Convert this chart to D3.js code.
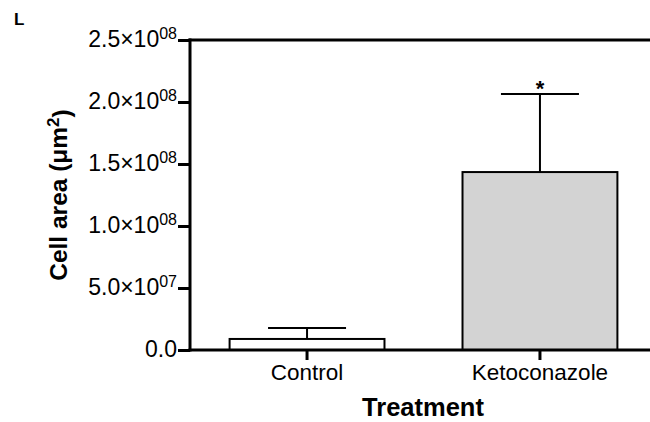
<!DOCTYPE html>
<html><head><meta charset="utf-8">
<script src="https://cdn.jsdelivr.net/npm/d3@7"></script>
<style>body{margin:0;background:#fff}svg{display:block}</style>
</head><body>
<svg id="chart" width="650" height="422"></svg>
<script>
const categories = ["Control", "Ketoconazole"];
const means = [8.9e6, 1.435e8];
const errors = [8.8e6, 6.3e7];
const significance = ["", "*"];
const yTicks = [0, 5e7, 1e8, 1.5e8, 2e8, 2.5e8];
const yTickMantissa = ["0.0", "5.0×10", "1.0×10", "1.5×10", "2.0×10", "2.5×10"];
const yTickExponent = ["", "07", "08", "08", "08", "08"];
const barFills = ["#ffffff", "#d3d3d3"];

const svg = d3.select("#chart");
const font = "'Liberation Sans', Arial, sans-serif";
const y = d3.scaleLinear().domain([0, 2.5e8]).range([350, 40]);
const x = d3.scaleBand().domain(categories).range([190, 657])
  .paddingInner(0.335).paddingOuter(0.17);

// bars
const g = svg.append("g");
g.selectAll("rect.bar").data(categories).join("rect")
  .attr("x", d => x(d)).attr("width", x.bandwidth())
  .attr("y", (d, i) => y(means[i]))
  .attr("height", (d, i) => y(0) - y(means[i]))
  .attr("fill", (d, i) => barFills[i])
  .attr("stroke", "#000").attr("stroke-width", 2);

// error bars
const capW = 78;
categories.forEach((c, i) => {
  const cx = x(c) + x.bandwidth() / 2;
  g.append("line").attr("x1", cx).attr("x2", cx)
    .attr("y1", y(means[i])).attr("y2", y(means[i] + errors[i]))
    .attr("stroke", "#000").attr("stroke-width", 2);
  g.append("line").attr("x1", cx - capW / 2).attr("x2", cx + capW / 2)
    .attr("y1", y(means[i] + errors[i])).attr("y2", y(means[i] + errors[i]))
    .attr("stroke", "#000").attr("stroke-width", 2);
  if (significance[i]) {
    g.append("text").attr("x", cx).attr("y", y(means[i] + errors[i]) + 2)
      .attr("text-anchor", "middle").attr("font-family", font)
      .attr("font-size", 22).attr("font-weight", "bold").text(significance[i]);
  }
});

// y axis
const yAxis = svg.append("g").attr("transform", "translate(190,0)")
  .call(d3.axisLeft(y).tickValues(yTicks).tickSize(12).tickPadding(1).tickFormat((d, i) => yTickMantissa[i]));
yAxis.select(".domain").remove();
yAxis.selectAll(".tick line").attr("stroke", "#000").attr("stroke-width", 3);
yAxis.selectAll(".tick text").each(function(d, i) {
  const t = d3.select(this);
  t.text(null).attr("font-family", font).attr("font-size", 23).attr("fill", "#000").attr("dy", "0.3em");
  t.append("tspan").text(yTickMantissa[i]);
  if (yTickExponent[i]) t.append("tspan").attr("dy", "-0.5em").attr("font-size", 16).text(yTickExponent[i]);
});

// x axis
const xAxis = svg.append("g").attr("transform", "translate(0,350)")
  .call(d3.axisBottom(x).tickSize(10).tickPadding(4));
xAxis.select(".domain").remove();
xAxis.selectAll(".tick line").attr("stroke", "#000").attr("stroke-width", 3);
xAxis.selectAll(".tick text").attr("font-family", font).attr("font-size", 22.5).attr("fill", "#000");

// frame lines
svg.append("line").attr("x1", 190).attr("x2", 190).attr("y1", 38.5).attr("y2", 351.5).attr("stroke", "#000").attr("stroke-width", 3);
svg.append("line").attr("x1", 188.5).attr("x2", 650).attr("y1", 350).attr("y2", 350).attr("stroke", "#000").attr("stroke-width", 3);
svg.append("line").attr("x1", 188.5).attr("x2", 650).attr("y1", 40).attr("y2", 40).attr("stroke", "#000").attr("stroke-width", 3);

// axis titles
svg.append("text").attr("x", 423).attr("y", 416).attr("text-anchor", "middle")
  .attr("font-family", font).attr("font-size", 25.5).attr("font-weight", "bold").text("Treatment");
const yl = svg.append("text").attr("transform", "translate(67,195) rotate(-90)").attr("text-anchor", "middle")
  .attr("font-family", font).attr("font-size", 24.5).attr("font-weight", "bold");
yl.append("tspan").text("Cell area (μm");
yl.append("tspan").attr("dy", "-0.45em").attr("font-size", 17).text("2");
yl.append("tspan").attr("dy", "0.45em").text(")");

// panel letter
svg.append("text").attr("x", 14).attr("y", 25).attr("font-family", font)
  .attr("font-size", 17).attr("font-weight", "bold").text("L");
</script>
</body></html>
